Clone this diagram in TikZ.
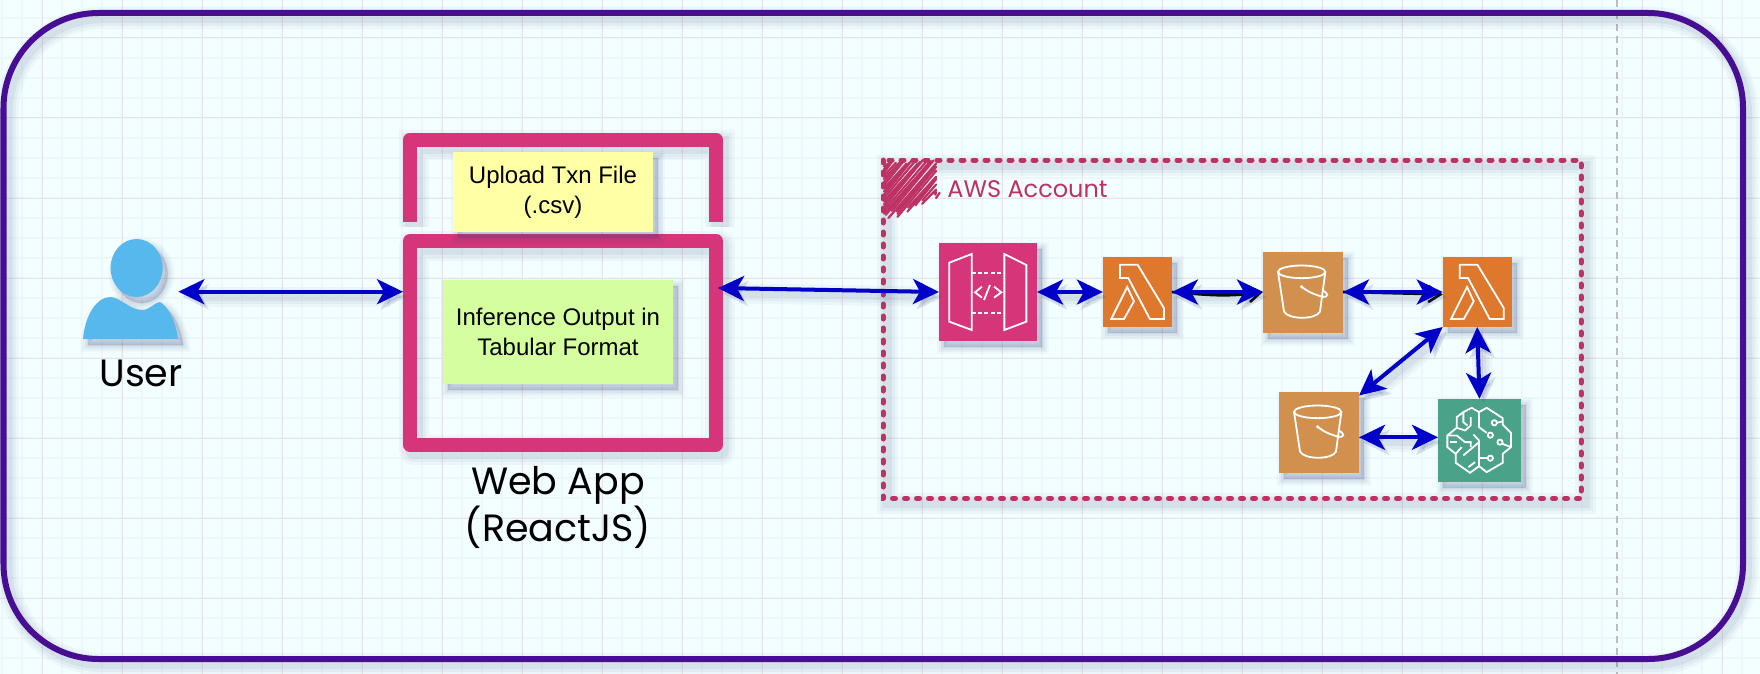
\documentclass[tikz,border=0pt]{standalone}
\usepackage{fontspec}
\usepackage{xcolor}
\setmainfont{Liberation Sans}
\newfontfamily\handfont{Poppins}
\usetikzlibrary{arrows.meta}
\definecolor{sheet}{HTML}{F2FEFF}
\definecolor{gridminor}{HTML}{EDF7F9}
\definecolor{gridmajor}{HTML}{E8E3E9}
\definecolor{shade}{HTML}{39487F}
\definecolor{outerviolet}{HTML}{470E93}
\definecolor{apppink}{HTML}{D63579}
\definecolor{framepink}{HTML}{BE3163}
\definecolor{arrowblue}{HTML}{0000C8}
\definecolor{lambdaorange}{HTML}{DE782D}
\definecolor{bucketorange}{HTML}{D2904E}
\definecolor{sagegreen}{HTML}{4AA288}
\definecolor{personblue}{HTML}{56B8EC}
\tikzstyle{softbox} = [
    preaction={fill=shade, draw=shade, line width=7pt, opacity=.03, transform canvas={shift={(2.5pt,-3pt)}}},
    preaction={fill=shade, draw=shade, line width=5pt, opacity=.05, transform canvas={shift={(2.5pt,-3pt)}}},
    preaction={fill=shade, draw=shade, line width=3pt, opacity=.06, transform canvas={shift={(2.5pt,-3pt)}}},
    preaction={fill=shade, draw=shade, line width=1pt, opacity=.07, transform canvas={shift={(2.5pt,-3pt)}}}]
\tikzstyle{softline} = [
    preaction={draw=shade, line width=\pgflinewidth+4pt, opacity=.04, transform canvas={shift={(2pt,-2.5pt)}}},
    preaction={draw=shade, line width=\pgflinewidth+2.5pt, opacity=.05, transform canvas={shift={(2pt,-2.5pt)}}},
    preaction={draw=shade, line width=\pgflinewidth+1pt, opacity=.07, transform canvas={shift={(2pt,-2.5pt)}}}]
\tikzstyle{iconbox} = [rectangle, softbox, inner sep=0pt, outer sep=0pt]
\tikzstyle{lambdabox} = [iconbox, fill=lambdaorange, minimum width=34.5pt, minimum height=35pt]
\tikzstyle{bucketbox} = [iconbox, fill=bucketorange, minimum width=40pt, minimum height=40.5pt]
\tikzstyle{note} = [rectangle, softbox, text=black, inner sep=0pt, align=center,
    font=\fontsize{12}{15}\selectfont]
\tikzstyle{handlabel} = [align=center, text=black, font=\handfont\fontsize{19}{23.5}\selectfont]
\tikzstyle{link} = [draw=arrowblue, line width=2pt, softline,
    {Stealth[length=13pt,width=12.5pt,inset=3.5pt]}-{Stealth[length=13pt,width=12.5pt,inset=3.5pt]}]
\tikzstyle{sketch} = [draw=black, line width=1.3pt, -{Straight Barb[length=6pt,width=8pt]}]
\tikzstyle{glyphscale} = [x=0.16667pt, y=-0.16667pt]
\tikzstyle{glyphline} = [draw=white, line width=.9pt, line join=miter]
\tikzset{
    lambdaglyph/.pic={
        \draw [glyphline] (51,23) -- (104,23) -- (183,153) -- (183,186) -- (141,186)
            -- (76,63) -- (51,63) -- cycle;
        \draw [glyphline] (73,90) -- (93,133) -- (63,186) -- (25,186) -- cycle;
    },
    bucketglyph/.pic={
        \draw [glyphline] (116,61) ellipse (71 and 19);
        \draw [glyphline] (45,61) -- (63,180) .. controls (75,205) and (160,205) .. (171,180) -- (187,61);
        \fill [white] (116,106) circle (.9pt);
        \draw [glyphline] (116,106) .. controls (140,125) and (160,130) .. (175,135)
            .. controls (198,140) and (198,125) .. (178,117);
    },
    apiglyph/.pic={
        \draw [glyphline] (31,59) -- (98,33) -- (98,261) -- (31,236) -- cycle;
        \draw [glyphline] (196,33) -- (262,66) -- (262,236) -- (196,261) -- cycle;
        \draw [glyphline, dash pattern=on 2pt off 1.2pt] (98,89) -- (196,89);
        \draw [glyphline, dash pattern=on 2pt off 1.2pt] (98,209) -- (196,209);
        \draw [glyphline] (129,131) -- (108,148) -- (129,164);
        \draw [glyphline] (153,126) -- (135,171);
        \draw [glyphline] (165,131) -- (187,148) -- (165,164);
    },
    sageglyph/.pic={
        % outline of the brain
        \draw [glyphline] (123,40) -- (101,27) -- (76,40) -- (56,55) -- (56,87) -- (28,110) -- (28,145)
            -- (53,165) -- (53,192) -- (96,222) -- (123,202) -- (146,220) -- (194,192) -- (194,165)
            -- (219,145) -- (219,102) -- (194,77) -- (194,58) -- (146,27) -- cycle;
        % right half
        \draw [glyphline] (123,40) -- (123,85) -- (146,102);
        \draw [glyphline] (157,109) circle (1.3pt);
        \draw [glyphline] (169,72) circle (1.3pt);
        \draw [glyphline] (176,72) -- (194,68);
        \draw [glyphline] (186,130) circle (1.3pt);
        \draw [glyphline] (193,135) -- (219,145);
        \draw [glyphline] (157,178) circle (1.3pt);
        \draw [glyphline] (150,178) -- (123,178);
        % left half
        \draw [glyphline] (123,202) -- (123,125) -- (106,107);
        \draw [glyphline] (98,55) -- (98,80) -- (81,95) -- (56,87);
        \draw [glyphline] (76,40) -- (76,70) -- (88,80);
        \draw [glyphline] (28,110) -- (56,110) -- (81,130) -- (98,130) -- (98,145);
        \draw [glyphline] (36,130) -- (56,130);
        \draw [glyphline] (53,165) -- (71,145);
        \draw [glyphline] (76,170) -- (123,130);
        \draw [glyphline] (91,205) -- (111,190);
    }
}

\begin{document}
\begin{tikzpicture}[x=0.5pt, y=-0.5pt]
    \useasboundingbox (0,0) rectangle (1760,674);
    % Sheet and grid
    \fill [sheet] (0,0) rectangle (1760,674);
    \foreach \gx in {2,22,...,1760}
        \draw [gridminor, line width=.9pt] (\gx,0) -- (\gx,674);
    \foreach \gy in {18,38,...,660}
        \draw [gridminor, line width=.9pt] (0,\gy) -- (1760,\gy);
    \foreach \gx in {42,122,...,1760}
        \draw [gridmajor, line width=.5pt] (\gx,0) -- (\gx,674);
    \foreach \gy in {38,118,...,660}
        \draw [gridmajor, line width=.5pt] (0,\gy) -- (1760,\gy);
    \draw [color={rgb,255:red,189;green,189;blue,189}, line width=1pt, dash pattern=on 3.5pt off 2.5pt] (1617,0) -- (1617,674);
    % Outer frame
    \draw [outerviolet, line width=3pt, rounded corners=47.5pt, softline] (3.5,13) rectangle (1743,659);
    % Place nodes
    \fill [personblue, softbox] (136.6,268) ellipse (26 and 29);
    \fill [personblue, softbox] (83,339) .. controls (85,315) and (97,297) .. (110,297)
        .. controls (120,297) and (130,310) .. (142,310) .. controls (150,310) and (155,302) .. (160,302)
        .. controls (168,306) and (176,322) .. (178,339) -- cycle;
    \node [inner sep=0pt, minimum width=47.5pt, minimum height=47.5pt] (user) at (130.5,291.7) {};
    \node [handlabel, font=\handfont\fontsize{19}{23}\selectfont] (userlabel) at (141,373) {User};

    \draw [apppink, line width=7pt, line join=round, softline] (410,222) -- (410,139.5) -- (716,139.5) -- (716,222);
    \node [rectangle, draw=apppink, line width=7pt, line join=round, softline,
        minimum width=153pt, minimum height=101.75pt, inner sep=0pt] (webapp) at (563,342.75) {};
    \node [note, fill={rgb,255:red,255;green,255;blue,166}, minimum width=100pt, minimum height=40pt] (upload) at (553,192) {Upload Txn File\\(.csv)};
    \node [note, fill={rgb,255:red,213;green,255;blue,158}, minimum width=115pt, minimum height=52pt] (output) at (558,332) {Inference Output in\\Tabular Format};
    \node [handlabel] (webapplabel) at (558,507) {Web App\\(ReactJS)};

    % AWS account
    \draw [framepink, line width=2.5pt, line cap=round, dash pattern=on 1.5pt off 4.5pt, softline] (883,160) rectangle (1581,498.5);
    \foreach \hk in {0,...,30} {
        \pgfmathsetmacro{\hs}{885+\hk*2.7}
        \pgfmathsetmacro{\hxa}{min(\hs,936)}
        \pgfmathsetmacro{\hya}{162+(\hs-\hxa)*1.17+2*sin(\hk*97)}
        \pgfmathsetmacro{\hyb}{min(214+4*sin(\hk*137)-max(0,\hs-945)*1.1,162+(\hs-884)*1.17)}
        \pgfmathsetmacro{\hxb}{\hs-(\hyb-162)/1.17}
        \draw [framepink, line width=1.1pt, line cap=round] (\hxa,\hya) -- (\hxb,\hyb);
    }
    \node [anchor=west, inner sep=0pt, text=framepink, font=\handfont\fontsize{12}{14}\selectfont] (awslabel) at (947,189) {AWS Account};

    \node [iconbox, fill=apppink, minimum width=49pt, minimum height=49pt] (apigw) at (988,292) {};
    \node [lambdabox, right of=apigw, node distance=74.7pt] (lambdaone) {};
    \node [bucketbox, right of=lambdaone, node distance=82.8pt] (bucketone) {};
    \node [lambdabox, right of=bucketone, node distance=87.1pt] (lambdatwo) {};
    \node [bucketbox] (buckettwo) at (1319,432) {};
    \node [iconbox, fill=sagegreen, minimum width=41.5pt, minimum height=41.5pt] (sagemaker) at (1479.5,440.3) {};
    \pic [glyphscale] at (apigw.north west) {apiglyph};
    \pic [glyphscale] at (lambdaone.north west) {lambdaglyph};
    \pic [glyphscale] at (lambdatwo.north west) {lambdaglyph};
    \pic [glyphscale] at (bucketone.north west) {bucketglyph};
    \pic [glyphscale] at (buckettwo.north west) {bucketglyph};
    \pic [glyphscale] at (sagemaker.north west) {sageglyph};
    % Draw edges
    \path [sketch] (lambdaone.east) .. controls ([xshift=14pt,yshift=-1pt]lambdaone.east) and ([xshift=-20pt,yshift=-3pt]bucketone.west) .. (bucketone.west);
    \path [sketch] (bucketone.east) -- ([yshift=-1.2pt]lambdatwo.west);
    \path [link] (user.east) -- (user.east -| webapp.west);
    \path [link] ([xshift=-2.5pt,yshift=2pt]webapp.east |- apigw.west) -- (apigw.west);
    \path [link] (apigw.east) -- (lambdaone.west);
    \path [link] (lambdaone.east) -- (bucketone.west);
    \path [link] (bucketone.east) -- (lambdatwo.west);
    \path [link] (lambdatwo.south west) -- ([yshift=-2pt]buckettwo.north east);
    \path [link] (lambdatwo.south) -- (sagemaker.north);
    \path [link] ([yshift=1.5pt]sagemaker.west -| buckettwo.east) -- ([yshift=1.5pt]sagemaker.west);
\end{tikzpicture}
\end{document}
